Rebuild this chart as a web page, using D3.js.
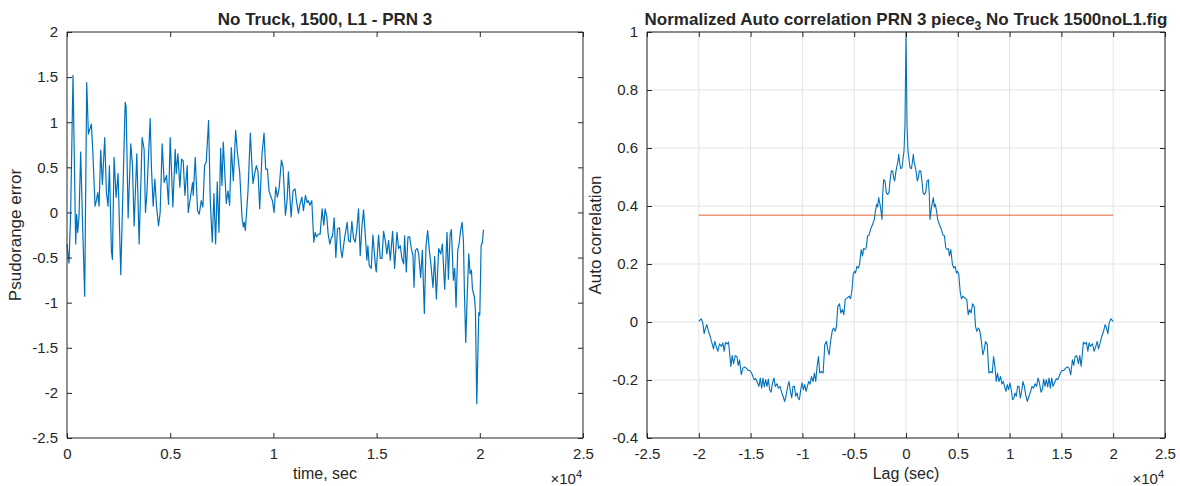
<!DOCTYPE html>
<html>
<head>
<meta charset="utf-8">
<script src="https://cdn.jsdelivr.net/npm/d3@7"></script>
<style>
  body { margin: 0; background: #fff; }
  svg text { font-family: "Liberation Sans", Arial, sans-serif; fill: #262626; }
</style>
</head>
<body>
<div id="chart"></div>
<script>
// ---- left plot data: pseudorange error vs time (sec) ----
let timeSec = [0, 49, 97, 178, 291, 421, 469, 518, 583, 663, 744, 858, 955, 1036, 1116, 1181, 1246, 1359, 1424, 1489,
  1553, 1634, 1715, 1828, 1909, 1990, 2055, 2152, 2200, 2281, 2378, 2475, 2605, 2820, 2864, 2961, 3090, 3171, 3252, 3382,
  3495, 3640, 3736, 3802, 3867, 4029, 4094, 4175, 4256, 4336, 4433, 4514, 4611, 4708, 4822, 4919, 5000, 5130, 5243, 5292,
  5372, 5469, 5550, 5631, 5712, 5825, 5873, 5970, 6084, 6116, 6213, 6326, 6407,
  6504, 6585, 6666, 6747, 6860, 6941, 7038, 7119, 7200, 7281, 7362, 7443, 7508, 7572, 7718, 7799, 7880, 7961, 8058,
  8171, 8252, 8365, 8478, 8543, 8592, 8640, 8770, 8883, 8964, 9012, 9093, 9174, 9255, 9336, 9449, 9546, 9627, 9708,
  9789, 9854, 9951, 10032, 10113, 10193, 10274, 10388, 10469, 10582, 10663, 10727, 10857, 10954, 11051, 11116, 11213,
  11277, 11375, 11455, 11553, 11633, 11698, 11763, 11860, 11957, 12022, 12086, 12184, 12264, 12361, 12442, 12507,
  12588, 12653, 12734, 12815,
  12863, 12944, 13025, 13106, 13203, 13268, 13333, 13397, 13478, 13575, 13640, 13721, 13802, 13882, 13963, 14044,
  14125, 14206, 14287, 14368, 14449, 14530, 14578, 14643, 14740, 14821, 14934, 14983, 15096, 15177, 15258, 15339,
  15420, 15500, 15581, 15662, 15775, 15872, 15986, 16067, 16148, 16229, 16309, 16358, 16439, 16520, 16601, 16682,
  16762, 16811, 16876, 16973, 17038, 17135, 17216, 17313, 17393, 17474, 17555, 17636, 17733, 17814, 17895, 18008,
  18105, 18186, 18300, 18413, 18478, 18559, 18623, 18720, 18785, 18850, 18931, 18995, 19076, 19141, 19206, 19254,
  19319, 19384, 19465, 19529, 19594, 19643, 19740, 19789, 19853, 19951, 19999, 20064, 20128, 20177];

let psrError = [-0.35, -0.46, -0.56, 0, 1.52, -0.35, -0.02, -0.22, -0.04, 0.67, -0.04, -0.93, 1.44, 0.87, 0.93, 0.98, 0.70, 0.07, 0.13, 0.22,
  0.07, 0.69, 0.31, 0.83, 0.22, 0.07, 0.52, -0.43, -0.52, 0.61, 0.17, 0.43, -0.69, 1.22, 1.17, -0.06, 0.76, 0.52, -0.15, 0.65,
  -0.35, 0.83, 0.70, 0, 0.20, 1.04, 0.48, 0.07, 0.37, 0.07, -0.15, 0, 0.76, 0.33, 0.41, 0.09, 0.83, 0.06, 0.70, 0.43,
  0.65, 0.28, 0.59, 0.57, 0.19, 0.52, 0, 0.15, 0.33, 0.19, 0.61, 0.02, -0.02,
  0.13, 0.06, 0.52, 0.56, 1.02, 0.13, -0.33, 0.21, -0.35, 0.34, -0.22, 0.71, 0.30, 0.78, 0.10, 0.24, 0.08, 0.72, 0.35,
  0.91, 0.67, 0.45, -0.05, -0.16, -0.11, -0.20, 0.24, 0.88, 0.50, 0.32, 0.43, 0.52, 0.45, 0.04, 0.65, 0.88, 0.48, 0.48,
  0.24, 0.19, 0.13, 0, 0.28, 0.17, 0.26, 0.58, 0.50, -0.03, 0.13, 0.45, -0.05, 0.24, 0.26, 0.13, -0.01,
  0.08, 0.17, 0.02, 0.19, 0.11, 0.13, 0.08, 0.13, -0.33, -0.22, -0.27, -0.24, -0.24, 0.04, -0.14, 0.04,
  -0.05, -0.24, -0.35, -0.27,
  -0.27, -0.06, -0.50, -0.18, -0.17, -0.42, -0.50, -0.37, -0.24, -0.11, -0.31, -0.33, -0.10, -0.29, -0.33, -0.18,
  0.04, -0.48, -0.16, 0.03, -0.24, -0.53, -0.37, -0.59, -0.62, -0.25, -0.57, -0.66, -0.25, -0.51, -0.51, -0.21,
  -0.31, -0.46, -0.31, -0.53, -0.21, -0.62, -0.22, -0.40, -0.37, -0.51, -0.57, -0.26, -0.66, -0.27, -0.27, -0.40,
  -0.48, -0.83, -0.42, -0.40, -0.46, -0.72, -0.42, -1.12, -0.37, -0.20, -0.42, -0.59, -0.83, -0.49, -0.96, -0.40,
  -0.46, -0.35, -0.85, -0.22, -0.74, -0.25, -0.19, -0.75, -0.62, -1.05, -0.42, -0.35, -0.19, -0.11, -0.31, -0.87,
  -1.44, -0.96, -0.46, -0.68, -0.64, -0.85, -0.94, -1.09, -2.12, -1.11, -1.14, -0.37, -0.33, -0.19];

// ---- right plot data: normalized autocorrelation vs lag (sec) ----
let lagNeg = [-20000, -19774, -19613, -19484, -19355, -19226, -19065, -18903, -18774, -18581, -18452, -18323, -18161,
  -18000, -17806, -17677, -17548, -17419, -17258, -17129, -17000, -16903, -16774, -16645, -16484, -16323, -16194,
  -16065, -15903, -15742, -15581, -15419, -15226, -15065, -14903, -14774, -14645, -14516, -14355, -14194, -14065,
  -13935, -13806, -13677, -13548, -13419, -13290, -13161, -13032, -12871, -12742, -12613, -12452, -12323, -12161,
  -12032, -11871, -11710, -11581, -11419, -11290, -11161, -11032, -10903, -10774, -10645, -10516, -10419, -10290,
  -10161, -10032, -9903, -9774, -9645, -9516, -9387, -9258, -9129, -8968, -8839, -8710, -8581, -8452, -8323, -8161,
  -8000, -7839, -7677, -7548, -7419, -7258, -7097, -6968, -6839, -6710, -6581, -6419, -6290, -6129, -6000, -5871,
  -5677, -5484, -5355, -5226, -5097, -4968, -4871, -4742, -4613, -4484, -4323, -4194, -4097, -3968, -3839, -3710,
  -3581, -3378, -3217, -3056, -2960, -2831, -2734, -2638, -2509, -2413, -2316, -2252, -2155, -2027, -1898, -1769,
  -1640, -1544, -1415, -1287, -1190, -1094, -965, -869, -772, -708, -611, -515, -386, -290, -193, -97, 0];

let acNeg = [0.002, 0.011, -0.003, -0.040, -0.021, -0.009, -0.032, -0.049, -0.067, -0.093, -0.067, -0.084, -0.101,
  -0.075, -0.084, -0.072, -0.101, -0.070, -0.076, -0.069, -0.118, -0.153, -0.116, -0.144, -0.116, -0.119, -0.150,
  -0.130, -0.182, -0.159, -0.155, -0.159, -0.167, -0.167, -0.176, -0.188, -0.199, -0.195, -0.208, -0.222, -0.193,
  -0.228, -0.193, -0.224, -0.199, -0.222, -0.197, -0.233, -0.242, -0.208, -0.193, -0.222, -0.213, -0.228, -0.222,
  -0.239, -0.256, -0.274, -0.256, -0.222, -0.205, -0.239, -0.262, -0.222, -0.222, -0.256, -0.245, -0.262, -0.268,
  -0.233, -0.210, -0.233, -0.216, -0.239, -0.222, -0.205, -0.214, -0.188, -0.205, -0.176, -0.205, -0.153, -0.119, -0.176, -0.170,
  -0.176, -0.078, -0.067, -0.095, -0.113, -0.061, -0.026, -0.021, -0.032, -0.015, 0.054, 0.063, 0.031, 0.043, 0.025, 0.077,
  0.083, 0.089, 0.080, 0.106, 0.163, 0.175, 0.169, 0.192, 0.186, 0.198, 0.250, 0.228, 0.253, 0.250, 0.256, 0.297,
  0.299, 0.323, 0.337, 0.354, 0.380, 0.406, 0.397, 0.429, 0.406, 0.383, 0.354, 0.439, 0.491, 0.486, 0.446, 0.440,
  0.446, 0.486, 0.521, 0.521, 0.498, 0.486, 0.521, 0.538, 0.555, 0.578, 0.549, 0.529, 0.532, 0.561, 0.589, 0.681, 1.0];

let lagPos = [97, 193, 290, 386, 515, 611, 708, 772, 869, 965, 1094, 1190, 1287, 1415, 1544, 1640, 1769, 1898, 2027,
  2155, 2252, 2316, 2413, 2509, 2638, 2734, 2831, 2960, 3056, 3217, 3378, 3581, 3710, 3839, 3968, 4097, 4194, 4323,
  4484, 4613, 4742, 4871, 4968, 5097, 5226, 5355, 5484, 5677, 5871, 6000, 6129, 6290, 6419, 6581, 6710, 6839, 6968,
  7097, 7258, 7419, 7548, 7677, 7839, 8000, 8161, 8323, 8452, 8581, 8710, 8839, 8968, 9129, 9258, 9387, 9516, 9645,
  9774, 9903, 10032, 10161, 10290, 10419, 10516, 10645, 10774, 10903, 11032, 11161, 11290, 11419, 11581, 11710, 11871,
  12032, 12161, 12323, 12452, 12613, 12742, 12871, 13032, 13161, 13290, 13419, 13548, 13677, 13806, 13935, 14065,
  14194, 14355, 14516, 14645, 14774, 14903, 15065, 15226, 15419, 15581, 15742, 15903, 16065, 16194, 16323, 16484,
  16645, 16774, 16903, 17000, 17129, 17258, 17419, 17548, 17677, 17806, 18000, 18161, 18323, 18452, 18581, 18774,
  18903, 19065, 19226, 19355, 19484, 19613, 19774, 20000];

let acPos = [0.681, 0.589, 0.561, 0.532, 0.529, 0.549, 0.578, 0.555, 0.538, 0.521, 0.486, 0.498, 0.521, 0.521, 0.486,
  0.446, 0.440, 0.446, 0.486, 0.491, 0.439, 0.354, 0.383, 0.406, 0.429, 0.397, 0.406, 0.380, 0.354, 0.337, 0.323,
  0.299, 0.297, 0.256, 0.250, 0.253, 0.228, 0.250, 0.198, 0.186, 0.192, 0.169, 0.175, 0.163, 0.106, 0.080, 0.089,
  0.083, 0.077, 0.025, 0.043, 0.031, 0.063, 0.054, -0.015, -0.032, -0.021, -0.026, -0.061, -0.113, -0.095, -0.067,
  -0.078, -0.176, -0.170, -0.176, -0.119, -0.153, -0.205, -0.176, -0.205, -0.188, -0.214, -0.205, -0.222, -0.239,
  -0.216, -0.233, -0.210, -0.233, -0.268, -0.262, -0.245, -0.256, -0.222, -0.222, -0.262, -0.239, -0.205, -0.222,
  -0.256, -0.274, -0.256, -0.239, -0.222, -0.228, -0.213, -0.222, -0.193, -0.208, -0.242, -0.233, -0.197, -0.222,
  -0.199, -0.224, -0.193, -0.228, -0.193, -0.222, -0.208, -0.195, -0.199, -0.188, -0.176, -0.167, -0.167, -0.159,
  -0.155, -0.159, -0.182, -0.130, -0.150, -0.119, -0.116, -0.144, -0.116, -0.153, -0.118, -0.069, -0.076, -0.070,
  -0.101, -0.072, -0.084, -0.075, -0.101, -0.084, -0.067, -0.093, -0.067, -0.049, -0.032, -0.009, -0.021, -0.040,
  -0.003, 0.011, 0.002];

// threshold line (1/e) drawn over the lag range
let thresholdLag = [-20000, 20000];
let thresholdValue = 0.3679;

// tick labels
let leftXTicks = [0, 0.5, 1, 1.5, 2, 2.5];          // x 10^4
let leftYTicks = [-2.5, -2, -1.5, -1, -0.5, 0, 0.5, 1, 1.5, 2];
let rightXTicks = [-2.5, -2, -1.5, -1, -0.5, 0, 0.5, 1, 1.5, 2, 2.5]; // x 10^4
let rightYTicks = [-0.4, -0.2, 0, 0.2, 0.4, 0.6, 0.8, 1];

const W = 1180, H = 486;
const axisColor = "#262626";
const blue = "#0072BD";

let svg = d3.select("#chart").append("svg").attr("width", W).attr("height", H);

// draws one MATLAB style axes box and returns the group and scales
let makeAxes = (opts) => {
  let g = svg.append("g").attr("transform", `translate(${opts.left},${opts.top})`);
  let x = d3.scaleLinear().domain(opts.xDomain).range([0, opts.width]);
  let y = d3.scaleLinear().domain(opts.yDomain).range([opts.height, 0]);
  let fmt = d => String(+d.toFixed(2));
  let xt = opts.xTicks.map(d => d * 1e4);

  if (opts.grid) {
    g.append("g").attr("class", "grid")
      .selectAll("line.gx").data(xt).enter().append("line")
      .attr("x1", d => x(d)).attr("x2", d => x(d)).attr("y1", 0).attr("y2", opts.height);
    g.append("g").attr("class", "grid")
      .selectAll("line.gy").data(opts.yTicks).enter().append("line")
      .attr("x1", 0).attr("x2", opts.width).attr("y1", d => y(d)).attr("y2", d => y(d));
    g.selectAll(".grid line").attr("stroke", "#e3e3e3").attr("stroke-width", 1);
  }

  let plot = g.append("g");

  let bottom = g.append("g").attr("transform", `translate(0,${opts.height})`)
    .call(d3.axisBottom(x).tickValues(xt).tickSize(-5).tickPadding(10).tickFormat(d => fmt(d / 1e4)));
  let top = g.append("g")
    .call(d3.axisTop(x).tickValues(xt).tickSize(-5).tickFormat(""));
  let left = g.append("g")
    .call(d3.axisLeft(y).tickValues(opts.yTicks).tickSize(-5).tickPadding(9).tickFormat(fmt));
  let right = g.append("g").attr("transform", `translate(${opts.width},0)`)
    .call(d3.axisRight(y).tickValues(opts.yTicks).tickSize(-5).tickFormat(""));

  [bottom, top, left, right].forEach(a => {
    a.select(".domain").attr("stroke", axisColor).attr("stroke-width", 1);
    a.selectAll(".tick line").attr("stroke", axisColor);
    a.selectAll(".tick text").style("font-size", "15px").attr("fill", axisColor);
  });
  // MATLAB draws the axes as a closed box
  top.select(".domain").attr("d", `M0,0H${opts.width}`);
  right.select(".domain").attr("d", `M0,0V${opts.height}`);
  bottom.select(".domain").attr("d", `M0,0H${opts.width}`);
  left.select(".domain").attr("d", `M0,0V${opts.height}`);

  // title
  let title = svg.append("text")
    .attr("x", opts.left + opts.width / 2).attr("y", opts.top - 7)
    .attr("text-anchor", "middle").style("font-size", "17px").style("font-weight", "bold");
  opts.title(title);

  // x label
  svg.append("text").attr("x", opts.left + opts.width / 2).attr("y", opts.top + opts.height + 41)
    .attr("text-anchor", "middle").style("font-size", "16px").text(opts.xLabel);
  // y label
  svg.append("text")
    .attr("transform", `translate(${opts.left - opts.yLabelOffset},${opts.top + opts.height / 2}) rotate(-90)`)
    .attr("text-anchor", "middle").style("font-size", "17px").text(opts.yLabel);

  // exponent label  x10^4
  let ex = svg.append("text").attr("x", opts.left + opts.width - 1).attr("y", opts.top + opts.height + 46)
    .attr("text-anchor", "end").style("font-size", "15px");
  ex.append("tspan").text("\u00d710");
  ex.append("tspan").attr("dy", -6).style("font-size", "11px").text("4");

  return { g: plot, x, y };
};

// ---------------- left plot ----------------
let L = makeAxes({
  left: 67, top: 32, width: 516, height: 406,
  xDomain: [0, 25000], yDomain: [-2.5, 2],
  xTicks: leftXTicks, yTicks: leftYTicks, grid: false,
  xLabel: "time, sec", yLabel: "Psudorange error", yLabelOffset: 46,
  title: t => t.text("No Truck, 1500, L1 - PRN 3")
});

let leftData = timeSec.map((t, i) => [t, psrError[i]]);
L.g.append("path").datum(leftData)
  .attr("fill", "none").attr("stroke", blue).attr("stroke-width", 1.2).attr("stroke-linejoin", "round")
  .attr("d", d3.line().x(d => L.x(d[0])).y(d => L.y(d[1])));

// ---------------- right plot ----------------
let R = makeAxes({
  left: 647, top: 32, width: 518, height: 406,
  xDomain: [-25000, 25000], yDomain: [-0.4, 1],
  xTicks: rightXTicks, yTicks: rightYTicks, grid: true,
  xLabel: "Lag (sec)", yLabel: "Auto correlation", yLabelOffset: 46,
  title: t => {
    t.append("tspan").text("Normalized Auto correlation PRN 3 piece");
    t.append("tspan").attr("dy", 5).style("font-size", "12px").text("3");
    t.append("tspan").attr("dy", -5).text(" No Truck 1500noL1.fig");
  }
});

let rightData = lagNeg.map((l, i) => [l, acNeg[i]])
  .concat(lagPos.map((l, i) => [l, acPos[i]]));

R.g.append("path").datum(thresholdLag.map(l => [l, thresholdValue]))
  .attr("fill", "none").attr("stroke", "#D95319").attr("stroke-opacity", 0.6).attr("stroke-width", 1.6)
  .attr("d", d3.line().x(d => R.x(d[0])).y(d => R.y(d[1])));

R.g.append("path").datum(rightData)
  .attr("fill", "none").attr("stroke", blue).attr("stroke-width", 1.1).attr("stroke-linejoin", "round")
  .attr("d", d3.line().x(d => R.x(d[0])).y(d => R.y(d[1])));
</script>
</body>
</html>
